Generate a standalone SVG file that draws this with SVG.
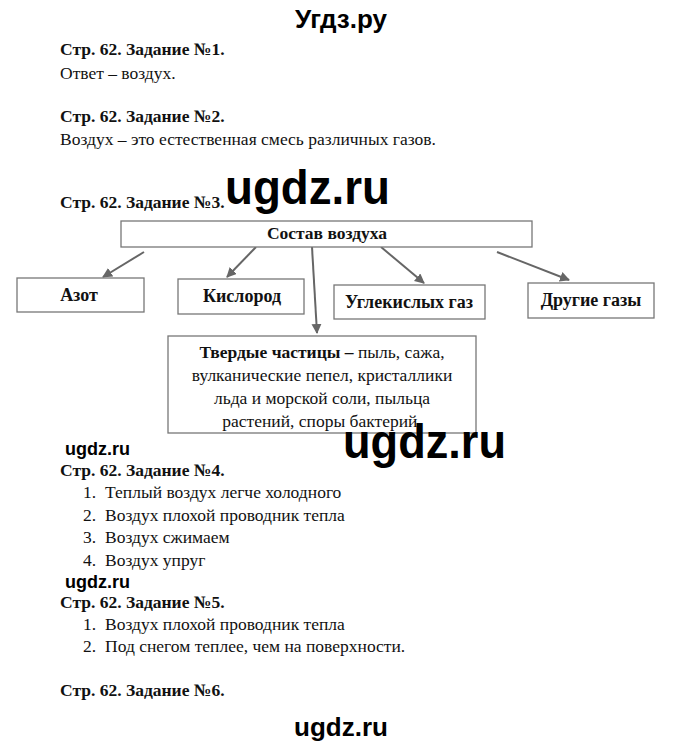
<svg xmlns="http://www.w3.org/2000/svg" width="680" height="747" viewBox="0 0 680 747">
<defs>
<style>
.t{font-family:"Liberation Serif","Times New Roman",serif;font-size:17.5px;fill:#111}
.b{font-weight:bold}
.lb{font-size:18px}
.wm{font-family:"Liberation Sans",Arial,sans-serif;font-weight:bold;fill:#000}
.box{fill:#fff;stroke:#777;stroke-width:1.3}
.c{text-anchor:middle}
.ar{stroke:#666;stroke-width:2;fill:none;marker-end:url(#ah)}
</style>
<marker id="ah" viewBox="0 0 10 10" refX="9" refY="5" markerWidth="5" markerHeight="5" orient="auto">
<path d="M0,0 L10,5 L0,10 z" fill="#666"/>
</marker>
</defs>
<rect width="680" height="747" fill="#fff"/>
<text class="wm c" x="341" y="28" font-size="26">Угдз.ру</text>

<text class="t b" x="60" y="55">Стр. 62. Задание №1.</text>
<text class="t" x="60" y="79">Ответ – воздух.</text>
<text class="t b" x="60" y="122">Стр. 62. Задание №2.</text>
<text class="t" x="60" y="145">Воздух – это естественная смесь различных газов.</text>
<text class="t b" x="60" y="208">Стр. 62. Задание №3.</text>
<text class="wm" x="225" y="204" font-size="48" textLength="165" lengthAdjust="spacingAndGlyphs">ugdz.ru</text>

<g id="connectors">
<line class="ar" x1="144" y1="252" x2="103" y2="277"/>
<line class="ar" x1="256" y1="247" x2="227" y2="277"/>
<line class="ar" x1="312" y1="247" x2="317" y2="333"/>
<line class="ar" x1="381" y1="247" x2="424" y2="283"/>
<line class="ar" x1="497" y1="252" x2="569" y2="280"/>
</g>

<g id="root">
<rect class="box" x="121" y="221" width="411" height="26"/>
<text class="t b c" x="327" y="239">Состав воздуха</text>
</g>
<g id="azot">
<rect class="box" x="17" y="278" width="127" height="34"/>
<text class="t b lb c" x="79" y="301">Азот</text>
</g>
<g id="kislorod">
<rect class="box" x="178" y="279" width="126" height="35"/>
<text class="t b lb c" x="242" y="302">Кислород</text>
</g>
<g id="co2">
<rect class="box" x="334" y="285" width="151" height="34"/>
<text class="t b lb c" x="409" y="308">Углекислых газ</text>
</g>
<g id="other">
<rect class="box" x="528" y="283" width="126" height="35"/>
<text class="t b lb c" x="591" y="306">Другие газы</text>
</g>
<g id="solid">
<rect class="box" x="168" y="336" width="308" height="97"/>
<text class="t c" x="322" y="358"><tspan class="b">Твердые частицы –</tspan> пыль, сажа,</text>
<text class="t c" x="322" y="381">вулканические пепел, кристаллики</text>
<text class="t c" x="322" y="404">льда и морской соли, пыльца</text>
<text class="t c" x="322" y="427">растений, споры бактерий.</text>
</g>

<text class="wm" x="65" y="455" font-size="18">ugdz.ru</text>
<text class="wm" x="343" y="458" font-size="48" textLength="163" lengthAdjust="spacingAndGlyphs">ugdz.ru</text>

<text class="t b" x="60" y="476">Стр. 62. Задание №4.</text>
<text class="t" x="83" y="498">1.</text><text class="t" x="105" y="498">Теплый воздух легче холодного</text>
<text class="t" x="83" y="521">2.</text><text class="t" x="105" y="521">Воздух плохой проводник тепла</text>
<text class="t" x="83" y="543">3.</text><text class="t" x="105" y="543">Воздух сжимаем</text>
<text class="t" x="83" y="566">4.</text><text class="t" x="105" y="566">Воздух упруг</text>

<text class="wm" x="65" y="588" font-size="18">ugdz.ru</text>
<text class="t b" x="60" y="608">Стр. 62. Задание №5.</text>
<text class="t" x="83" y="630">1.</text><text class="t" x="105" y="630">Воздух плохой проводник тепла</text>
<text class="t" x="83" y="652">2.</text><text class="t" x="105" y="652">Под снегом теплее, чем на поверхности.</text>

<text class="t b" x="60" y="696">Стр. 62. Задание №6.</text>
<text class="wm c" x="341" y="736" font-size="26">ugdz.ru</text>
</svg>
